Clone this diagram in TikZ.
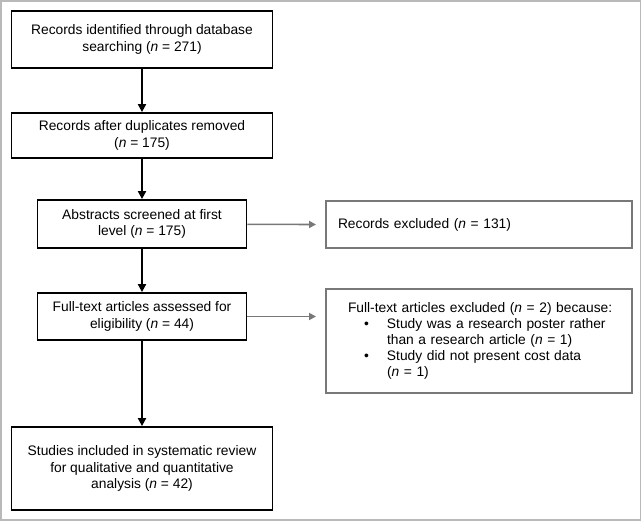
\documentclass[tikz,border=0pt]{standalone}
\usepackage{fontspec}
\setmainfont{Liberation Sans}
\usetikzlibrary{arrows.meta}
\definecolor{framegray}{RGB}{185,185,185}
\definecolor{boxgray}{RGB}{120,120,120}
\begin{document}
\begin{tikzpicture}[x=1pt,y=-1pt]

      \useasboundingbox (0,0) rectangle (642,521);
      \draw[framegray, line width=1.5pt] (1,1) rectangle (640.5,520);

      \begin{scope}[every node/.style={draw, line width=1.8pt, align=center,
          font=\fontsize{13.8}{16.4}\selectfont, inner sep=0pt}]
        \node[minimum width=261, minimum height=57] (1) at (142,39.5)
          {Records identified through database\\searching (\textit{n} = 271)};
        \node[minimum width=261, minimum height=45] (2) at (142,135.5)
          {Records after duplicates removed\\(\textit{n} = 175)};
        \node[minimum width=209, minimum height=48] (3) at (142,224)
          {Abstracts screened at first\\level (\textit{n} = 175)};
        \node[minimum width=209, minimum height=47] (4) at (142,316.5)
          {Full-text articles assessed for\\eligibility (\textit{n} = 44)};
        \node[minimum width=261, minimum height=83] (5) at (142,468.5)
          {Studies included in systematic review\\for qualitative and quantitative\\analysis (\textit{n} = 42)};
      \end{scope}

      \begin{scope}[every node/.style={draw=boxgray, line width=1.9pt, align=left,
          font=\fontsize{13.8}{15.8}\selectfont, inner sep=0pt, minimum width=306}]
        \node[minimum height=47, text width=282] (6) at (479,224.5)
          {Records excluded (\textit{n} = 131)};
        \node[minimum height=104, text width=282] (7) at (479,341)
          {\hspace*{10pt}Full-text articles excluded (\textit{n} = 2) because:\\
           \hspace*{26pt}\makebox[23pt][l]{•}Study was a research poster rather\\
           \hspace*{49pt}than a research article (\textit{n} = 1)\\
           \hspace*{26pt}\makebox[23pt][l]{•}Study did not present cost data\\
           \hspace*{49pt}(\textit{n} = 1)};
      \end{scope}

      \begin{scope}[every edge/.style={draw, line width=2.2pt, -{Triangle[length=8pt, width=8pt]}}]
        \path (1) edge (2);
        \path (2) edge (3);
        \path (3) edge (4);
        \path (4) edge (5);
      \end{scope}

      \begin{scope}[every edge/.style={draw=boxgray, line width=1.6pt, -{Triangle[length=7pt, width=7pt]}}]
        \path (3) edge ([xshift=-9pt]6.west);
        \path (4.east) edge ([xshift=-9pt]7.west |- 4.east);
      \end{scope}

    \end{tikzpicture}
\end{document}
